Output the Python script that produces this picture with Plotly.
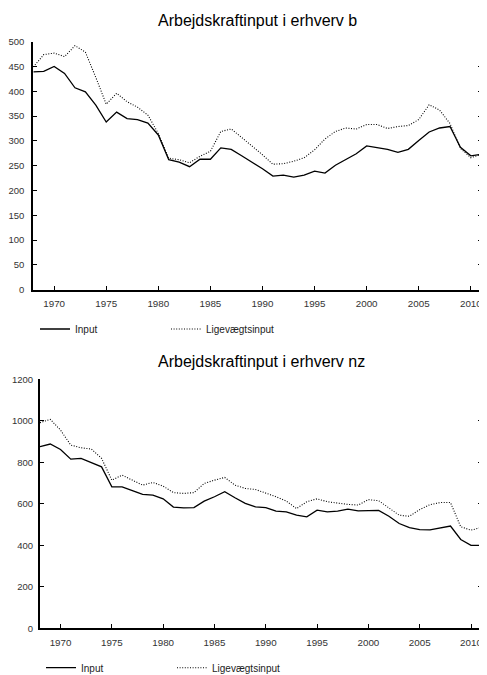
import plotly.graph_objects as go

# years on the x axis
years = list(range(1968, 2012))

# Arbejdskraftinput i erhverv b
b_input = [439, 440, 450, 436, 407, 399, 372, 338, 358, 345, 343, 336,
           312, 262, 257, 248, 263, 263, 286, 283, 270, 257,
           244, 229, 231, 227, 231, 239, 235, 251, 262, 274,
           290, 287, 283, 277, 283, 301, 318, 326, 329, 287, 270, 273]
b_ligevaegt = [449, 474, 477, 470, 492, 479, 428, 374, 396, 379, 368, 352,
               315, 265, 262, 256, 269, 279, 319, 324, 307, 290,
               272, 253, 254, 259, 266, 282, 304, 319, 326, 324,
               333, 333, 325, 329, 331, 343, 373, 362, 335, 285, 266, 273]

# Arbejdskraftinput i erhverv nz
nz_input = [875, 888, 862, 815, 819, 798, 778, 682, 682, 663, 645, 642,
            624, 584, 580, 582, 613, 634, 658, 629, 602, 585,
            582, 565, 561, 545, 537, 569, 561, 565, 574, 566,
            568, 568, 540, 505, 485, 476, 474, 485, 493, 428, 400, 400]
nz_ligevaegt = [991, 1007, 955, 883, 870, 864, 819, 714, 738, 714, 690, 703,
                685, 654, 650, 654, 698, 714, 727, 690, 674, 669,
                653, 634, 613, 577, 610, 624, 610, 602, 597, 594,
                620, 615, 582, 545, 540, 572, 596, 606, 606, 489, 473, 486]

titles = ["Arbejdskraftinput i erhverv b", "Arbejdskraftinput i erhverv nz"]
series_names = ["Input", "Ligevægtsinput"]

# the page body has an 8px margin, so the figure is placed at (8, 8)
OFF = 8
W, H = 487 - OFF, 675 - OFF
FONT = "Liberation Sans, Arial, sans-serif"
DOTS = "1px,1.6px"


def px_x(p):
    return (p - OFF) / W


def px_y(p):
    return 1 - (p - OFF) / H


fig = go.Figure()

fig.add_trace(go.Scatter(x=years, y=b_input, name=series_names[0], mode="lines",
                         line=dict(color="black", width=1.3),
                         xaxis="x", yaxis="y", legend="legend"))
fig.add_trace(go.Scatter(x=years, y=b_ligevaegt, name=series_names[1], mode="lines",
                         line=dict(color="black", width=1.1, dash=DOTS),
                         xaxis="x", yaxis="y", legend="legend"))
fig.add_trace(go.Scatter(x=years, y=nz_input, name=series_names[0], mode="lines",
                         line=dict(color="black", width=1.3),
                         xaxis="x2", yaxis="y2", legend="legend2"))
fig.add_trace(go.Scatter(x=years, y=nz_ligevaegt, name=series_names[1], mode="lines",
                         line=dict(color="black", width=1.1, dash=DOTS),
                         xaxis="x2", yaxis="y2", legend="legend2"))

xcommon = dict(range=[1968, 2011.1], tickmode="linear", tick0=1970, dtick=5,
               ticks="inside", ticklen=4, tickwidth=1, tickcolor="black",
               showline=True, linecolor="black", linewidth=2, mirror=False,
               showgrid=False, zeroline=False, ticklabelstandoff=4, automargin=False,
               tickfont=dict(family=FONT, size=9.8, color="#333"))
ycommon = dict(ticks="inside", ticklen=4, tickwidth=1, tickcolor="black",
               showline=True, linecolor="black", linewidth=2, mirror="ticks",
               showgrid=False, zeroline=False, automargin=False,
               tickfont=dict(family=FONT, size=9.5, color="#333"))

legcommon = dict(orientation="h", entrywidth=86, entrywidthmode="pixels",
                 xanchor="left", yanchor="middle", bgcolor="rgba(0,0,0,0)",
                 font=dict(family=FONT, size=10, color="#222"))

fig.update_layout(
    width=W, height=H,
    margin=dict(l=0, r=0, t=0, b=0, autoexpand=False),
    paper_bgcolor="white", plot_bgcolor="white",
    font=dict(family=FONT),
    xaxis=dict(domain=[px_x(33.3), px_x(482.3)], anchor="y", **xcommon),
    yaxis=dict(domain=[px_y(289.7), px_y(41.7)], anchor="x",
               range=[0, 500], dtick=50, ticklabelstandoff=5, **ycommon),
    xaxis2=dict(domain=[px_x(40), px_x(482.3)], anchor="y2", **xcommon),
    yaxis2=dict(domain=[px_y(628.3), px_y(379.3)], anchor="x2",
                range=[0, 1200], dtick=200, ticklabelstandoff=3, **ycommon),
    legend=dict(x=px_x(35), y=px_y(329), **legcommon),
    legend2=dict(x=px_x(41), y=px_y(667.7), **legcommon),
    annotations=[
        dict(text=titles[0], x=px_x(257.8), y=px_y(20), xref="paper", yref="paper",
             xanchor="center", yanchor="middle", showarrow=False,
             font=dict(family=FONT, size=16, color="black")),
        dict(text=titles[1], x=px_x(261), y=px_y(361.7), xref="paper", yref="paper",
             xanchor="center", yanchor="middle", showarrow=False,
             font=dict(family=FONT, size=16, color="black")),
    ],
)

fig.write_html("out.html")
